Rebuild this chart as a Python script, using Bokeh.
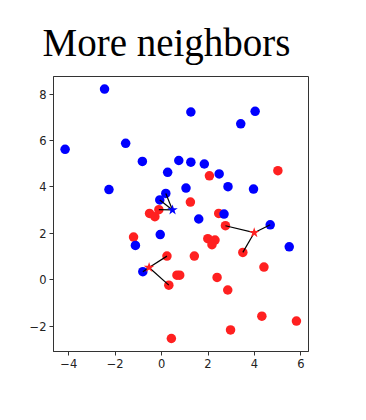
from bokeh.plotting import figure
from bokeh.models import Range1d, FixedTicker
from bokeh.embed import file_html
from bokeh.resources import INLINE

# Blue class
blue_x = [-4.16, -2.46, -2.27, -1.55, -0.83, 0.26, 0.74, 1.26, 1.26, 1.84, 2.48, 3.41, 4.03,
          1.05, 2.86, 3.96, 0.18, -0.08, 1.60, 2.69, 4.68, 5.50, -0.06, -1.13, -0.81]
blue_y = [5.62, 8.22, 3.89, 5.88, 5.10, 4.63, 5.14, 7.23, 5.07, 4.99, 4.56, 6.72, 7.26,
          3.95, 4.01, 3.91, 3.72, 3.44, 2.62, 2.83, 2.37, 1.42, 1.95, 1.48, 0.35]

# Red class
red_x = [2.06, 5.01, 1.24, -0.12, -0.52, -0.29, 2.46, 2.75, 3.50, 1.99, 2.30, 2.17, -1.21,
         0.23, 1.41, 4.41, 0.66, 0.78, 2.39, 0.31, 2.85, 4.32, 5.81, 2.97, 0.42]
red_y = [4.48, 4.70, 3.35, 3.02, 2.86, 2.72, 2.86, 2.33, 1.18, 1.77, 1.71, 1.51, 1.84,
         1.02, 1.02, 0.55, 0.20, 0.20, 0.10, -0.23, -0.44, -1.57, -1.78, -2.16, -2.53]

# Query points (stars) and their predicted class
star_x = [0.47, -0.54, 3.99]
star_y = [3.01, 0.53, 2.03]
star_class = ["blue", "red", "red"]

# Neighbours of each star: (class, index into that class's arrays)
neighbors = [
    [("red", 3), ("blue", 17), ("blue", 16)],
    [("blue", 24), ("red", 13), ("red", 19)],
    [("red", 7), ("blue", 20), ("red", 8)],
]

x_ticks = [-4, -2, 0, 2, 4, 6]
y_ticks = [-2, 0, 2, 4, 6, 8]

BLUE = "#0000ff"
RED = "#ff2020"

p = figure(width=328, height=381, output_backend="svg", toolbar_location=None,
           x_range=Range1d(-4.66, 6.33), y_range=Range1d(-3.09, 8.76),
           min_border_left=53, min_border_right=20, min_border_top=76, min_border_bottom=30)

p.title.text = "More neighbors"
p.title.text_font = "Liberation Serif"
p.title.text_font_size = "39px"
p.title.text_font_style = "normal"
p.title.text_color = "black"
p.title.offset = -11
p.title.standoff = 26

p.xgrid.grid_line_color = None
p.ygrid.grid_line_color = None
p.outline_line_color = "#333333"
p.outline_line_width = 1
p.background_fill_color = "white"
p.border_fill_color = "white"

p.xaxis.ticker = FixedTicker(ticks=x_ticks)
p.yaxis.ticker = FixedTicker(ticks=y_ticks)
for ax in (p.xaxis[0], p.yaxis[0]):
    ax.minor_tick_line_color = None
    ax.major_tick_in = 0
    ax.major_tick_out = 4
    ax.axis_line_color = "#333333"
    ax.major_tick_line_color = "#333333"
    ax.major_label_text_font = "DejaVu Sans"
    ax.major_label_text_font_size = "11.5px"
    ax.major_label_text_color = "#222222"
    ax.major_label_standoff = 3
p.xaxis.major_label_overrides = {t: str(t).replace("-", "\u2212") for t in x_ticks}
p.yaxis.major_label_overrides = {t: str(t).replace("-", "\u2212") for t in y_ticks}

p.scatter(red_x, red_y, size=9.5, color=RED, line_color=None)
p.scatter(blue_x, blue_y, size=9.5, color=BLUE, line_color=None)

pts = {"blue": (blue_x, blue_y), "red": (red_x, red_y)}
x0, y0, x1, y1 = [], [], [], []
for i, nb in enumerate(neighbors):
    for cls, j in nb:
        x0.append(star_x[i]); y0.append(star_y[i])
        x1.append(pts[cls][0][j]); y1.append(pts[cls][1][j])
p.segment(x0, y0, x1, y1, line_color="black", line_width=1.2)

star_colors = [BLUE if c == "blue" else RED for c in star_class]
p.scatter(star_x, star_y, marker="star", size=11, color=star_colors, line_color=None)

open("out.html", "w").write(file_html(p, INLINE))
